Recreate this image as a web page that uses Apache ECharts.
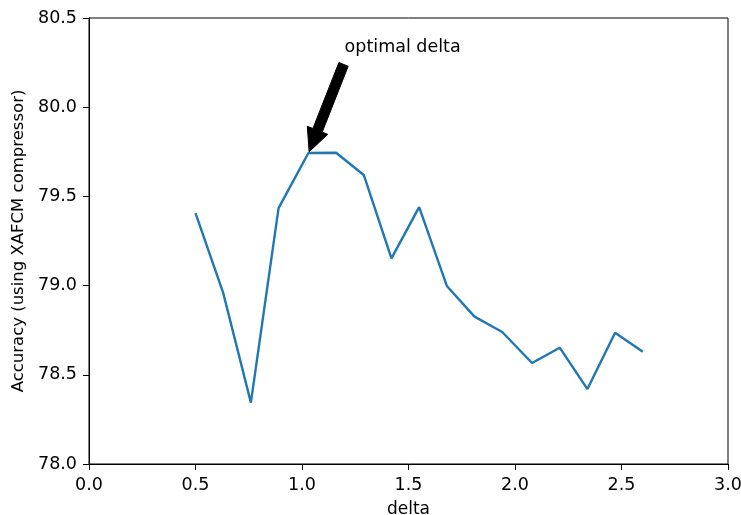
<!DOCTYPE html>
<html>
<head>
<meta charset="utf-8">
<script src="https://cdn.jsdelivr.net/npm/echarts@6/dist/echarts.min.js"></script>
<style>
  html, body { margin: 0; padding: 0; background: #fff; }
  #chart { width: 741px; height: 515px; }
</style>
</head>
<body>
<div id="chart"></div>
<script>
// delta values and the accuracy measured at each one
const deltas = [0.5, 0.63, 0.76, 0.89, 1.03, 1.16, 1.29, 1.42, 1.55, 1.68, 1.81, 1.94, 2.08, 2.21, 2.34, 2.47, 2.6];
const accuracy = [79.406, 78.959, 78.344, 79.434, 79.743, 79.745, 79.620, 79.153, 79.440, 78.998, 78.826, 78.740, 78.566, 78.652, 78.420, 78.736, 78.629];

// axis ranges and tick spacing
const xRange = [0, 3.0];
const yRange = [78.0, 80.5];
const xStep = 0.5;
const yStep = 0.5;

// annotation: label position and the point the arrow marks
const noteText = 'optimal delta';
const notePos = [1.2, 80.3];
const noteTarget = [1.03, 79.74];
const arrowTail = [1.195, 80.24];

const FONT = '"DejaVu Sans", sans-serif';
const chart = echarts.init(document.getElementById('chart'), null, { renderer: 'canvas' });

const option = {
  animation: false,
  backgroundColor: '#fff',
  grid: {
    left: 89, right: 13, top: 18, bottom: 51,
    containLabel: false, outerBoundsMode: 'none',
    show: true, borderColor: '#000', borderWidth: 1, backgroundColor: 'transparent'
  },
  xAxis: {
    type: 'value',
    min: xRange[0], max: xRange[1], interval: xStep,
    name: 'delta', nameLocation: 'middle', nameGap: 37,
    nameTextStyle: { color: '#000', fontSize: 17, fontFamily: FONT },
    axisLine: { show: true, lineStyle: { color: '#000', width: 1 } },
    axisTick: { show: true, inside: false, length: 6, lineStyle: { color: '#000' } },
    axisLabel: { color: '#000', fontSize: 17.5, fontFamily: FONT, margin: 12,
      formatter: v => v.toFixed(1) },
    splitLine: { show: false }
  },
  yAxis: {
    type: 'value',
    min: yRange[0], max: yRange[1], interval: yStep,
    name: 'Accuracy (using XAFCM compressor)', nameLocation: 'middle', nameGap: 62,
    nameTextStyle: { color: '#000', fontSize: 16.5, fontFamily: FONT },
    axisLine: { show: true, lineStyle: { color: '#000', width: 1 } },
    axisTick: { show: true, inside: false, length: 6, lineStyle: { color: '#000' } },
    axisLabel: { color: '#000', fontSize: 17.5, fontFamily: FONT, margin: 12,
      formatter: v => v.toFixed(1) },
    splitLine: { show: false }
  },
  series: [{
    type: 'line',
    data: deltas.map((d, i) => [d, accuracy[i]]),
    showSymbol: false,
    symbol: 'none',
    lineStyle: { color: '#1f77b4', width: 2.4 },
    itemStyle: { color: '#1f77b4' }
  }]
};
chart.setOption(option);

// arrow and label placed via the chart's own coordinate system
function drawNote() {
  const tail = chart.convertToPixel({ gridIndex: 0 }, arrowTail);
  const target = chart.convertToPixel({ gridIndex: 0 }, noteTarget);
  const label = chart.convertToPixel({ gridIndex: 0 }, notePos);
  const dx = target[0] - tail[0], dy = target[1] - tail[1];
  const len = Math.hypot(dx, dy);
  const ux = dx / len, uy = dy / len;
  const px = -uy, py = ux;
  const tip = [target[0] - ux * 2, target[1] - uy * 2];
  const shaftW = 5, headW = 11, headL = 23;
  const base = [tip[0] - ux * headL, tip[1] - uy * headL];
  const pts = [
    [tail[0] + px * shaftW, tail[1] + py * shaftW],
    [base[0] + px * shaftW, base[1] + py * shaftW],
    [base[0] + px * headW, base[1] + py * headW],
    tip,
    [base[0] - px * headW, base[1] - py * headW],
    [base[0] - px * shaftW, base[1] - py * shaftW],
    [tail[0] - px * shaftW, tail[1] - py * shaftW]
  ];
  chart.setOption({
    graphic: [
      { type: 'polygon', id: 'arrow', shape: { points: pts }, style: { fill: '#000', stroke: '#000', lineWidth: 1 }, z: 10 },
      { type: 'text', id: 'note', x: label[0], y: label[1] + 3,
        style: { text: noteText, fill: '#000', font: '17.5px ' + FONT, textAlign: 'left', textVerticalAlign: 'bottom' }, z: 10 }
    ]
  });
}
drawNote();
</script>
</body>
</html>
